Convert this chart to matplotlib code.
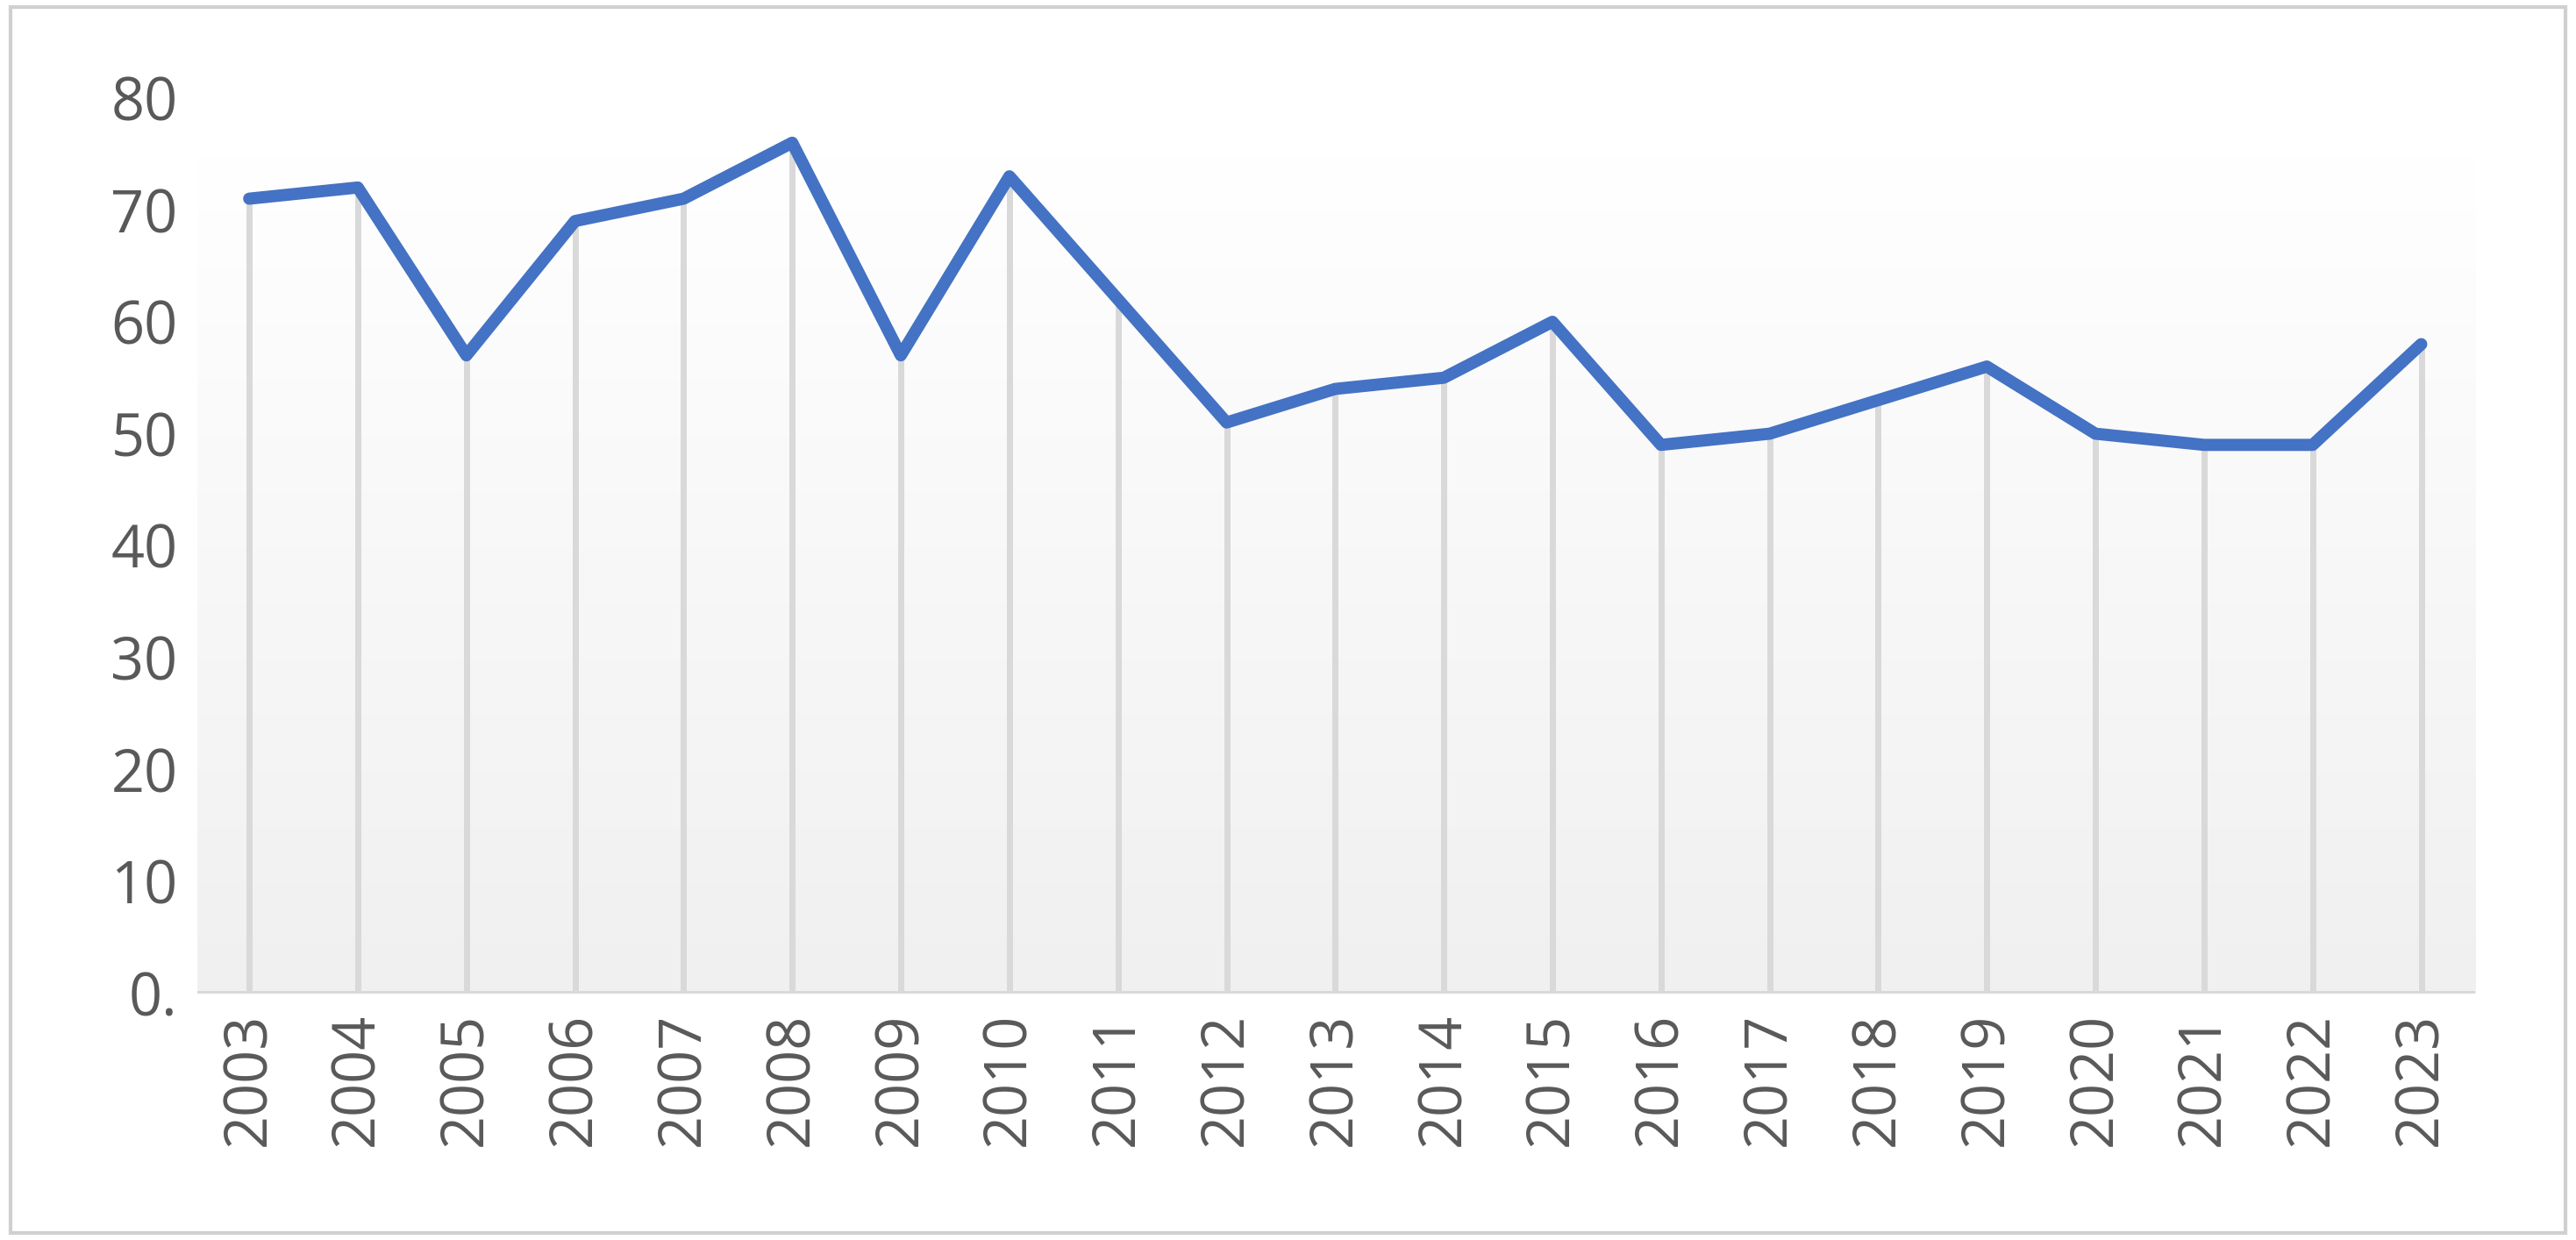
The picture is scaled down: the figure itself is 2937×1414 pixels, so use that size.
import numpy as np
import matplotlib.pyplot as plt
from matplotlib.patches import Rectangle

years = [str(y) for y in range(2003, 2024)]
values = [71, 72, 57, 69, 71, 76, 57, 73, 62, 51, 54, 55, 60, 49, 50, 53, 56, 50, 49, 49, 58]
ytick_vals = [0, 10, 20, 30, 40, 50, 60, 70, 80]
ytick_labels = ['0.', '10', '20', '30', '40', '50', '60', '70', '80']

plt.rcParams['font.family'] = ['Open Sans', 'DejaVu Sans']

fig = plt.figure(figsize=(29.37, 14.14), dpi=100)
fig.patches.append(Rectangle((0.004, 0.006), 0.992, 0.988, transform=fig.transFigure,
                             fill=False, edgecolor='#d0d0d0', linewidth=3))
ax = fig.add_axes([0.0765, 0.199, 0.8845, 0.722])

x = np.arange(len(years))
ax.set_xlim(-0.48, len(years) - 0.5)
ax.set_ylim(0, 80)

# gradient plot area
grad = np.linspace(0, 1, 256).reshape(-1, 1)
ax.imshow(grad, extent=[-0.48, len(years) - 0.5, 0, 75], aspect='auto',
          cmap=plt.matplotlib.colors.LinearSegmentedColormap.from_list('g', ['#f0f0f0', '#ffffff']),
          origin='lower', zorder=0)

ax.vlines(x, 0, values, color='#d9d9d9', linewidth=5, zorder=1)
ax.axhline(0, color='#d9d9d9', linewidth=5, zorder=1)
ax.plot(x, values, color='#4472C4', linewidth=10, solid_joinstyle='round',
        solid_capstyle='round', zorder=3)

ax.set_xticks(x)
ax.set_xticklabels(years, rotation=90, fontsize=48, color='#595959')
ax.set_yticks(ytick_vals)
ax.set_yticklabels(ytick_labels, fontsize=48, color='#595959')
ax.tick_params(length=0, pad=16)
for s in ax.spines.values():
    s.set_visible(False)

fig.savefig('out.png', dpi=100)
